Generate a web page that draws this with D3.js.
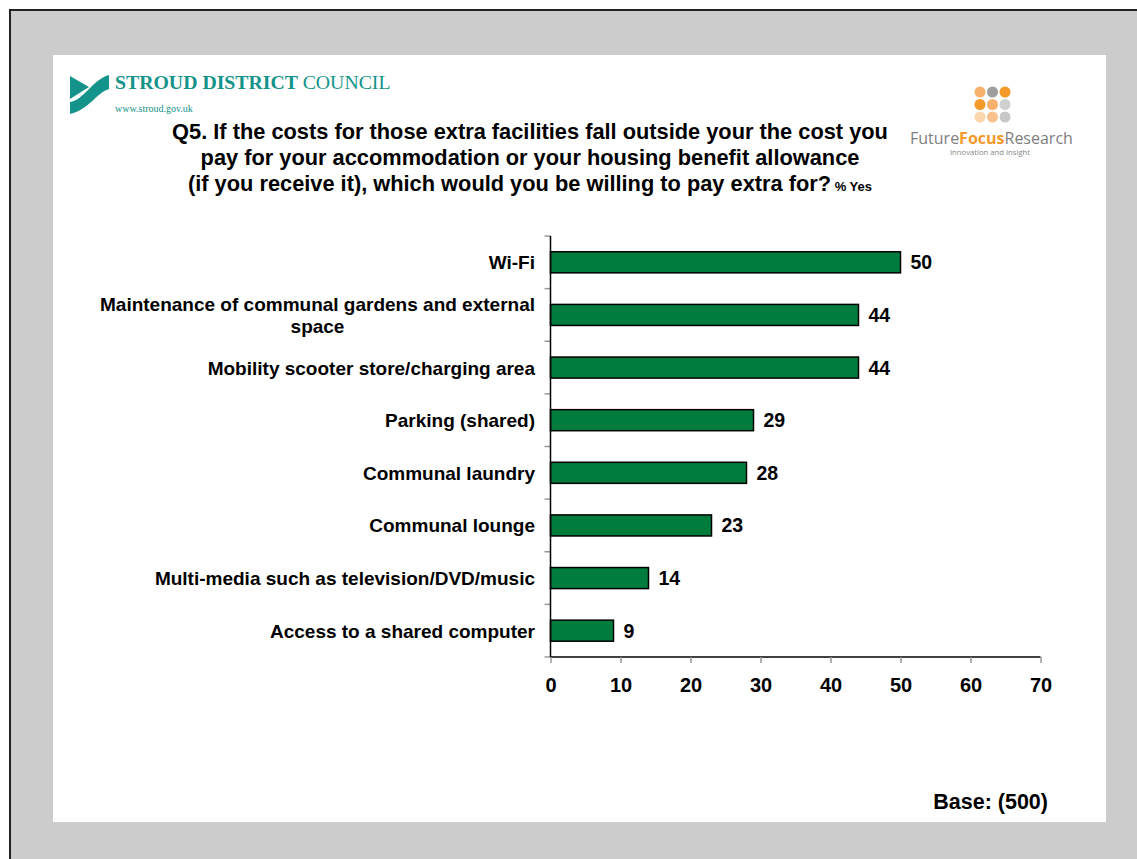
<!DOCTYPE html>
<html>
<head>
<meta charset="utf-8">
<script src="https://cdn.jsdelivr.net/npm/d3@7"></script>
<style>
  html, body { margin: 0; padding: 0; background: #fff; }
  svg { display: block; }
</style>
</head>
<body>
<svg id="chart" width="1137" height="859"></svg>
<script>
// ---- Data ----
const categories = [
  "Wi-Fi",
  "Maintenance of communal gardens and external|space",
  "Mobility scooter store/charging area",
  "Parking (shared)",
  "Communal laundry",
  "Communal lounge",
  "Multi-media such as television/DVD/music",
  "Access to a shared computer"
];
const values = [50, 44, 44, 29, 28, 23, 14, 9];
const xTicks = [0, 10, 20, 30, 40, 50, 60, 70];
const titleLines = [
  "Q5. If the costs for those extra facilities fall outside your the cost you",
  "pay for your accommodation or your housing benefit allowance",
  "(if you receive it), which would you be willing to pay extra for?"
];
const titleSuffix = "% Yes";
const baseText = "Base: (500)";

const FONT = "Liberation Sans, Arial, sans-serif";

// ---- Frame ----
const svg = d3.select("#chart");
svg.append("rect").attr("x", 0).attr("y", 0).attr("width", 1137).attr("height", 859).attr("fill", "#ffffff");
svg.append("rect").attr("x", 10).attr("y", 10).attr("width", 1127).attr("height", 849).attr("fill", "#cccccc");
svg.append("path").attr("d", "M10,859 V10 H1137").attr("fill", "none").attr("stroke", "#222").attr("stroke-width", 2);
svg.append("rect").attr("x", 53).attr("y", 55).attr("width", 1053).attr("height", 767).attr("fill", "#ffffff");

// ---- Stroud logo ----
const teal = "#13938a";
svg.append("path").attr("d", "M70,76 L89,87 L70,99 Z").attr("fill", teal);
svg.append("path").attr("d", "M70,102 C84,100 92,80 109,75 L109,89 C96,93 90,109 70,114 Z").attr("fill", teal);
const st = svg.append("text").attr("x", 115).attr("y", 89)
  .attr("font-family", "Liberation Serif, Times New Roman, serif").attr("font-size", 19.8).attr("fill", teal);
st.append("tspan").attr("font-weight", "bold").text("STROUD DISTRICT ");
st.append("tspan").text("COUNCIL");
svg.append("text").attr("x", 115).attr("y", 112)
  .attr("font-family", "Liberation Serif, serif").attr("font-size", 10).attr("fill", teal).text("www.stroud.gov.uk");

// ---- Future Focus logo ----
const dotColors = [
  ["#f6b26b", "#9e9e9e", "#f39a2b"],
  ["#f39a2b", "#f6b26b", "#d0d0d0"],
  ["#fbd6ad", "#f8c08a", "#c8c8c8"]
];
dotColors.forEach((row, i) => row.forEach((c, j) => {
  svg.append("circle").attr("cx", 980 + j * 12.5).attr("cy", 92 + i * 12.5).attr("r", 5.5).attr("fill", c);
}));
const ff = svg.append("text").attr("x", 910).attr("y", 144)
  .attr("font-family", "Open Sans, Liberation Sans, sans-serif").attr("font-size", 16).attr("fill", "#808080");
ff.append("tspan").text("Future");
ff.append("tspan").attr("font-weight", "bold").attr("fill", "#f39a2b").text("Focus");
ff.append("tspan").text("Research");
svg.append("text").attr("x", 990).attr("y", 155).attr("text-anchor", "middle")
  .attr("font-family", "Open Sans, Liberation Sans, sans-serif").attr("font-size", 7.7).attr("fill", "#888888")
  .text("Innovation and Insight");

// ---- Title ----
const tg = svg.append("g").attr("font-family", FONT).attr("font-weight", "bold").attr("fill", "#000");
titleLines.forEach((t, i) => {
  const tx = tg.append("text").attr("x", 530).attr("y", 138.5 + i * 26).attr("text-anchor", "middle").attr("font-size", 21.8);
  tx.append("tspan").text(t);
  if (i === titleLines.length - 1) {
    tx.append("tspan").attr("font-size", 13).text(" " + titleSuffix);
  }
});

// ---- Chart ----
const x = d3.scaleLinear().domain([0, 70]).range([550.5, 1040.5]);
const y = d3.scaleBand().domain(categories).range([236, 657]).paddingInner(0.6).paddingOuter(0.3);

const g = svg.append("g");

// bars
g.selectAll("rect.bar").data(values).enter().append("rect")
  .attr("class", "bar")
  .attr("x", x(0))
  .attr("y", (d, i) => y(categories[i]))
  .attr("width", d => x(d) - x(0))
  .attr("height", y.bandwidth())
  .attr("fill", "#007c3c")
  .attr("stroke", "#000").attr("stroke-width", 1.5);

// value labels
g.selectAll("text.val").data(values).enter().append("text")
  .attr("class", "val")
  .attr("x", d => x(d) + 10)
  .attr("y", (d, i) => y(categories[i]) + y.bandwidth() / 2 + 7)
  .attr("font-family", FONT).attr("font-weight", "bold").attr("font-size", 19.5)
  .text(d => d);

// y axis line + category ticks at band boundaries
const step = y.step();
const boundaries = d3.range(categories.length + 1).map(i => 236 + i * step);
g.selectAll("line.ytick").data(boundaries).enter().append("line")
  .attr("x1", x(0) - 6).attr("x2", x(0)).attr("y1", d => d).attr("y2", d => d)
  .attr("stroke", "#999").attr("stroke-width", 1.5);
g.append("line").attr("x1", x(0)).attr("x2", x(0)).attr("y1", 236).attr("y2", 657)
  .attr("stroke", "#000").attr("stroke-width", 1.5);

// category labels
categories.forEach(c => {
  const lines = c.split("|");
  const cy = y(c) + y.bandwidth() / 2;
  const t = g.append("text")
    .attr("font-family", FONT).attr("font-weight", "bold").attr("font-size", 19)
    .attr("fill", "#000");
  if (lines.length === 1) {
    t.attr("x", 535).attr("y", cy + 7).attr("text-anchor", "end").text(c);
  } else {
    t.attr("text-anchor", "middle");
    const tmp = t.append("tspan").text(lines[0]);
    const w = tmp.node().getComputedTextLength();
    tmp.remove();
    const cx = 535 - w / 2;
    lines.forEach((l, i) => {
      t.append("tspan").attr("x", cx).attr("y", cy + 7 - 11 + i * 22).text(l);
    });
  }
});

// x axis
const xAxis = d3.axisBottom(x).tickValues(xTicks).tickSize(6).tickPadding(15).tickFormat(d3.format("d"));
const ax = g.append("g").attr("transform", "translate(0,657)").call(xAxis);
ax.select(".domain").attr("stroke", "#000").attr("stroke-width", 1.5).attr("d", `M${x(0)},0H${x(70)}`);
ax.selectAll(".tick line").attr("stroke", "#999").attr("stroke-width", 1.5);
ax.selectAll(".tick text").attr("font-family", FONT).attr("font-weight", "bold")
  .attr("font-size", 20).attr("fill", "#000");

// base
svg.append("text").attr("x", 1048).attr("y", 809).attr("text-anchor", "end")
  .attr("font-family", FONT).attr("font-weight", "bold").attr("font-size", 21.5)
  .text(baseText);
</script>
</body>
</html>
